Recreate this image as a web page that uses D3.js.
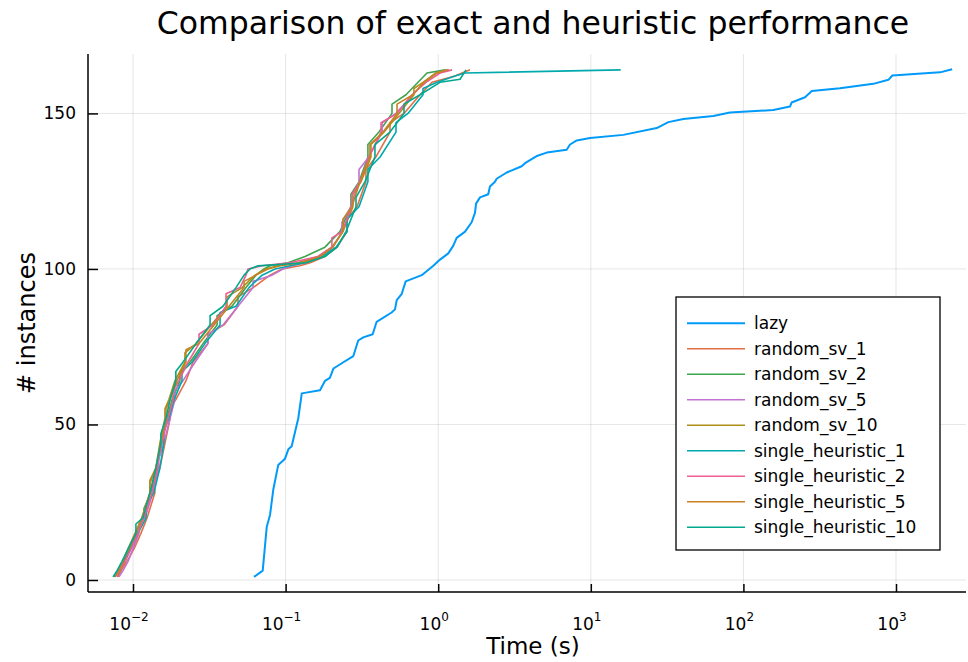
<!DOCTYPE html>
<html>
<head>
<meta charset="utf-8">
<script src="https://cdn.jsdelivr.net/npm/d3@7"></script>
<style>
  html, body { margin: 0; padding: 0; background: #fff; }
  svg { display: block; }
  text { font-family: "DejaVu Sans", sans-serif; fill: #000; }
</style>
</head>
<body>
<svg id="chart" width="968" height="662"></svg>
<script>
// ---------------- data (time in seconds, cumulative # instances) ----------------
const seriesNames = ["lazy", "random_sv_1", "random_sv_2", "random_sv_5", "random_sv_10",
  "single_heuristic_1", "single_heuristic_2", "single_heuristic_5", "single_heuristic_10"];
const seriesColors = ["#009AF9", "#E36F47", "#3EA44E", "#C372D2", "#AC8E18",
  "#00A9AD", "#ED5E93", "#C68225", "#00A98D"];

const lazyTimes = [0.0621,0.0708,0.0752,0.0791,0.083,0.0895,0.0991,0.1042,0.1096,0.1211,0.1276,0.168,0.181,0.195,0.206,0.239,0.278,0.299,0.323,0.372,0.395,0.495,0.521,0.535,0.577,0.612,0.78,0.929,1.028,1.164,1.256,1.321,1.5,1.656,1.742,1.77,1.879,2.128,2.183,2.355,2.415,2.812,3.524,3.707,4.198,4.426,5.14,6.95,7.311,8.091,9.886,16.33,27.04,32.21,40.36,63.53,81.66,157,201.8,207,253.5,280.5,429.5,709.6,891.3,946.2,1941,2333];
const lazyCounts = [1,3,17,21,29,37,39,42,43,52,60,61,64,65,68,70,72,77,78,79,83,86,87,90,92,96,98,101,103,105,107.5,110,112,115,118,121,123,124,126.5,128,129,131,133,134,135.6,136.3,137.4,138.3,140,141.3,142.1,143.1,145.3,147.2,148.2,149.2,150.3,151.1,152.2,153.5,155.2,157.2,158.1,159.5,160.8,162.2,163.2,164.2];

const randomSv1Counts = [1,3,6,10,15,20,28,31,36,44,52,55,58,64,70,76,79,82,88,91,94,98,100,101,102,104,107,112,116,120,128,132,136,144,147,150,156,160,162,163,164];
const randomSv1Times = [0.00797,0.00834,0.00914,0.01015,0.01127,0.01237,0.0139,0.0139,0.015,0.0162,0.0175,0.0175,0.01908,0.02223,0.02469,0.03096,0.03096,0.03951,0.04874,0.04874,0.06119,0.0791,0.09475,0.124,0.145,0.181,0.2175,0.2526,0.2526,0.2938,0.336,0.336,0.3908,0.483,0.483,0.5968,0.76,0.9104,1.289,1.433,1.616];

const randomSv2Counts = [1,3,6,10,15,20,23,28,36,44,47,52,58,64,67,70,76,82,85,88,94,98,100,101,102,104,107,112,120,124,128,136,140,144,150,153,156,160,163,164];
const randomSv2Times = [0.00762,0.00797,0.00873,0.00942,0.01062,0.01179,0.01179,0.01309,0.01433,0.01547,0.01547,0.0167,0.01804,0.0203,0.0203,0.0236,0.02877,0.03557,0.03557,0.04454,0.05501,0.06395,0.07222,0.0791,0.1037,0.134,0.181,0.227,0.268,0.268,0.3027,0.3462,0.3462,0.4089,0.498,0.498,0.6151,0.7374,0.8444,1.109];

const randomSv5Counts = [1,3,6,10,15,18,20,28,36,39,44,52,58,61,64,70,76,79,82,88,94,96,98,100,101,102,104,107,112,115,120,128,132,136,144,147,150,156,160,163,164];
const randomSv5Times = [0.00809,0.0086,0.00928,0.01,0.01094,0.01094,0.012,0.01349,0.01476,0.01476,0.01593,0.0175,0.0188,0.0188,0.02123,0.0255,0.03096,0.03096,0.03891,0.04874,0.06119,0.06119,0.08155,0.09613,0.1103,0.134,0.1732,0.204,0.234,0.234,0.268,0.3027,0.3027,0.3515,0.4289,0.4289,0.5288,0.683,0.8071,0.9673,1.16];

const randomSv10Counts = [1,3,6,10,15,20,28,32,36,44,52,55,58,64,70,73,76,82,88,91,94,98,100,101,102,104,107,112,120,124,128,136,140,144,150,156,158,160,163,164];
const randomSv10Times = [0.00786,0.00834,0.00887,0.00956,0.01045,0.01144,0.0129,0.0129,0.01411,0.015,0.0162,0.0162,0.0172,0.0188,0.0219,0.0219,0.02588,0.03248,0.04134,0.04134,0.05186,0.063,0.0744,0.08922,0.1203,0.1632,0.201,0.2374,0.2761,0.2761,0.3116,0.3624,0.3624,0.4418,0.5533,0.6935,0.6935,0.795,0.9673,1.178];

const single1Counts = [1,3,6,10,15,20,24,28,36,44,48,52,58,64,67,70,76,82,86,88,94,98,100,101,102,104,107,112,116,120,128,132,136,144,147,150,156,158,160,162,163,164];
const single1Times = [0.00751,0.00797,0.00873,0.0097,0.01077,0.01218,0.01218,0.0137,0.015,0.01593,0.01593,0.0172,0.01859,0.02093,0.02093,0.02433,0.0296,0.0372,0.0372,0.0473,0.05756,0.07011,0.0853,0.107,0.134,0.1732,0.2142,0.2526,0.2526,0.3027,0.3462,0.3462,0.416,0.5288,0.5288,0.6339,0.795,0.795,0.9825,1.289,1.499,15.7];

const single2Counts = [1,3,6,10,15,20,28,36,39,44,52,58,61,64,70,76,79,82,88,92,94,98,100,101,102,104,107,110,112,120,124,128,136,144,147,150,156,160,163,164];
const single2Times = [0.00786,0.00822,0.00887,0.0097,0.01077,0.01179,0.0133,0.01454,0.01454,0.01547,0.01695,0.01831,0.01831,0.01997,0.02291,0.02708,0.02708,0.03347,0.0407,0.0407,0.0503,0.05501,0.05669,0.07011,0.107,0.1632,0.201,0.201,0.234,0.2722,0.2722,0.307,0.3515,0.4222,0.4222,0.5372,0.6732,0.8313,1.028,1.232];

const single5Counts = [1,3,6,10,15,20,28,31,36,44,52,55,58,64,70,74,76,82,88,94,96,98,100,101,102,104,107,112,116,120,128,136,140,144,150,153,156,160,163,164];
const single5Times = [0.00762,0.00809,0.0086,0.00928,0.0103,0.01144,0.0129,0.0129,0.01411,0.01523,0.01644,0.01644,0.0175,0.01938,0.02223,0.02223,0.02708,0.03398,0.04259,0.05342,0.05342,0.06395,0.07667,0.0919,0.1278,0.168,0.204,0.2374,0.2374,0.2722,0.307,0.357,0.357,0.4351,0.5372,0.5372,0.683,0.8071,0.9825,1.143];

const single10Counts = [1,3,6,10,15,18,20,28,36,44,47,52,58,64,67,70,76,82,85,88,94,98,100,101,102,104,107,112,120,123,128,136,140,144,150,153,156,160,161,164];
const single10Times = [0.0074,0.00786,0.00847,0.00928,0.01045,0.01045,0.01161,0.0129,0.01411,0.01523,0.01523,0.01644,0.0175,0.01908,0.01908,0.02123,0.02588,0.032,0.032,0.03891,0.0473,0.05342,0.0585,0.0659,0.136,0.181,0.2175,0.2487,0.2893,0.2893,0.331,0.385,0.385,0.483,0.5968,0.5968,0.76,1.028,1.39,1.521];

const xTickValues = [0.01, 0.1, 1, 10, 100, 1000];
const xTickExponents = ["\u22122", "\u22121", "0", "1", "2", "3"];
const yTickValues = [0, 50, 100, 150];

const titleText = "Comparison of exact and heuristic performance";
const xLabelText = "Time (s)";
const yLabelText = "# instances";

// ---------------- build series ----------------
const zip = (ts, cs) => ts.map((t, i) => ({ t: t, n: cs[i] }));
const seriesData = [
  zip(lazyTimes, lazyCounts),
  zip(randomSv1Times, randomSv1Counts),
  zip(randomSv2Times, randomSv2Counts),
  zip(randomSv5Times, randomSv5Counts),
  zip(randomSv10Times, randomSv10Counts),
  zip(single1Times, single1Counts),
  zip(single2Times, single2Counts),
  zip(single5Times, single5Counts),
  zip(single10Times, single10Counts)
];

// ---------------- layout ----------------
const svg = d3.select("#chart");
const plot = { left: 88, right: 966, top: 54, bottom: 592 };

const x = d3.scaleLog().domain([0.005071, 2875]).range([plot.left, plot.right]);
const y = d3.scaleLinear().domain([-3.86, 169.1]).range([plot.bottom, plot.top]);

svg.append("defs").append("clipPath").attr("id", "clip")
  .append("rect").attr("x", plot.left).attr("y", plot.top)
  .attr("width", plot.right - plot.left).attr("height", plot.bottom - plot.top);

// grid
const grid = svg.append("g");
grid.selectAll(".gx").data(xTickValues).enter().append("line")
  .attr("x1", d => x(d)).attr("x2", d => x(d))
  .attr("y1", plot.top).attr("y2", plot.bottom)
  .attr("stroke", "#000").attr("stroke-opacity", 0.1).attr("stroke-width", 1);
grid.selectAll(".gy").data(yTickValues).enter().append("line")
  .attr("x1", plot.left).attr("x2", plot.right)
  .attr("y1", d => y(d)).attr("y2", d => y(d))
  .attr("stroke", "#000").attr("stroke-opacity", 0.1).attr("stroke-width", 1);

// lines
const line = d3.line().x(d => x(d.t)).y(d => y(d.n));
const lines = svg.append("g").attr("clip-path", "url(#clip)");
seriesData.forEach((data, i) => {
  lines.append("path").datum(data)
    .attr("fill", "none")
    .attr("stroke", seriesColors[i])
    .attr("stroke-width", i === 0 ? 2 : 1.6)
    .attr("stroke-linejoin", "round")
    .attr("d", line);
});

// axes
const xAxis = d3.axisBottom(x).tickValues(xTickValues).tickSize(-8).tickFormat("");
const yAxis = d3.axisLeft(y).tickValues(yTickValues).tickSize(-10).tickFormat("");
const gx = svg.append("g").attr("transform", `translate(0,${plot.bottom})`).call(xAxis);
const gy = svg.append("g").attr("transform", `translate(${plot.left},0)`).call(yAxis);
[gx, gy].forEach(g => {
  g.select(".domain").remove();
  g.selectAll(".tick line").attr("stroke", "#000").attr("stroke-width", 1.5);
});
svg.append("line").attr("x1", plot.left).attr("x2", plot.right)
  .attr("y1", plot.bottom).attr("y2", plot.bottom).attr("stroke", "#000").attr("stroke-width", 1.5);
svg.append("line").attr("x1", plot.left).attr("x2", plot.left)
  .attr("y1", plot.top).attr("y2", plot.bottom).attr("stroke", "#000").attr("stroke-width", 1.5);

// x tick labels
xTickValues.forEach((v, i) => {
  const t = svg.append("text").attr("x", x(v) - 4).attr("y", 630)
    .attr("text-anchor", "middle").style("font-size", "17px");
  t.append("tspan").text("10");
  t.append("tspan").attr("dy", -9).style("font-size", "12px").text(xTickExponents[i]);
});

// y tick labels
yTickValues.forEach(v => {
  svg.append("text").attr("x", 76).attr("y", y(v) + 6)
    .attr("text-anchor", "end").style("font-size", "17px").text(v);
});

// title and axis labels
svg.append("text").attr("x", 533).attr("y", 34).attr("text-anchor", "middle")
  .style("font-size", "31.5px").text(titleText);
svg.append("text").attr("x", 533).attr("y", 654).attr("text-anchor", "middle")
  .style("font-size", "23px").text(xLabelText);
svg.append("text").attr("transform", "translate(35,323) rotate(-90)")
  .attr("text-anchor", "middle").style("font-size", "24px").text(yLabelText);

// legend
const lg = svg.append("g");
lg.append("rect").attr("x", 676).attr("y", 297).attr("width", 264).attr("height", 253)
  .attr("fill", "#fff").attr("stroke", "#000").attr("stroke-width", 1.3);
seriesNames.forEach((name, i) => {
  const yy = 323.3 + i * 25.5;
  lg.append("line").attr("x1", 687).attr("x2", 745).attr("y1", yy).attr("y2", yy)
    .attr("stroke", seriesColors[i]).attr("stroke-width", i === 0 ? 2 : 1.6);
  lg.append("text").attr("x", 754).attr("y", yy + 6).style("font-size", "17px").text(name);
});
</script>
</body>
</html>
